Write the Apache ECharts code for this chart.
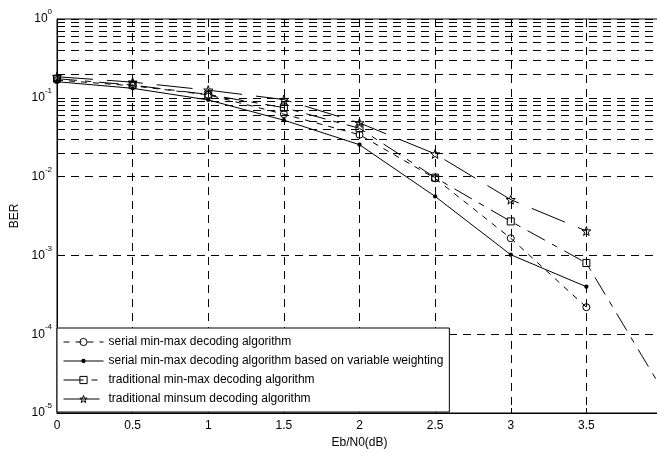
<!DOCTYPE html>
<html>
<head>
<meta charset="utf-8">
<title>BER</title>
<script src="https://cdn.jsdelivr.net/npm/echarts@6/dist/echarts.min.js"></script>
<style>
  html, body { margin: 0; padding: 0; background: #fff; }
  #chart { width: 657px; height: 452px; }
</style>
</head>
<body>
<div id="chart"></div>
<script>
// Eb/N0 points (dB)
var snr = [0, 0.5, 1, 1.5, 2, 2.5, 3, 3.5, 4]

// BER values
var serialMinMax = [0.168, 0.142, 0.109, 0.062, 0.034, 0.0095, 0.00165, 0.00022]
var serialWeighted = [0.160, 0.132, 0.094, 0.052, 0.0254, 0.0056, 0.00102, 0.0004]
var tradMinMax = [0.175, 0.145, 0.110, 0.075, 0.041, 0.0097, 0.0027, 0.0008, 0.00002]
var tradMinsum = [0.185, 0.158, 0.125, 0.095, 0.048, 0.0194, 0.0051, 0.00204]

var names = [
  'serial min-max decoding algorithm',
  'serial min-max decoding algorithm based on variable weighting',
  'traditional min-max decoding algorithm',
  'traditional minsum decoding algorithm'
]

// minor log grid (2..9 in every decade)
var decades = [-5, -4, -3, -2, -1]
var minorSteps = [2, 3, 4, 5, 6, 7, 8, 9]

var font = 'Arial, "Liberation Sans", sans-serif'
var gridDash = [8, 6]
var starPath = 'path://M0,-10 L2.35,-3.24 L9.51,-3.09 L3.8,1.24 L5.88,8.09 L0,4 L-5.88,8.09 L-3.8,1.24 L-9.51,-3.09 L-2.35,-3.24 Z'
// small dot inside an empty 20x20 box, so the legend dot stays small too
var dotPath = 'path://M-10,-10 M10,10 M-6,0 A6,6 0 1,1 6,0 A6,6 0 1,1 -6,0 Z'

function pairs(vals) {
  var out = []
  for (var i = 0; i < vals.length; i++) out.push([snr[i], vals[i]])
  return out
}

var minorLines = []
decades.forEach(function (d) {
  minorSteps.forEach(function (m) {
    minorLines.push({ yAxis: m * Math.pow(10, d) })
  })
})

function openMarker() {
  return { color: 'transparent', borderColor: '#000', borderWidth: 1 }
}

var chart = echarts.init(document.getElementById('chart'))

var option = {
  animation: false,
  backgroundColor: '#fff',
  textStyle: { fontFamily: font, color: '#000' },
  grid: {
    left: 57,
    top: 19,
    width: 605,
    height: 394,
    outerBoundsMode: 'none',
    show: true,
    borderColor: '#000',
    borderWidth: 1
  },
  legend: {
    data: names,
    orient: 'vertical',
    left: 57,
    top: 328,
    itemWidth: 40,
    itemHeight: 9,
    itemGap: 7,
    padding: [8, 6, 7, 6],
    borderColor: '#000',
    borderWidth: 1,
    backgroundColor: '#fff',
    lineStyle: { width: 1 },
    itemStyle: { borderWidth: 1 },
    textStyle: { fontFamily: font, fontSize: 12, color: '#000' }
  },
  xAxis: {
    type: 'value',
    min: 0,
    max: 4,
    interval: 0.5,
    name: 'Eb/N0(dB)',
    nameLocation: 'middle',
    nameGap: 24,
    nameTextStyle: { fontFamily: font, fontSize: 12, color: '#000' },
    axisLine: { lineStyle: { color: '#000', width: 1 } },
    axisTick: { inside: true, length: 5, lineStyle: { color: '#000' } },
    axisLabel: {
      color: '#000',
      fontSize: 12,
      fontFamily: font,
      margin: 7,
      showMaxLabel: false
    },
    splitLine: { show: true, lineStyle: { color: '#000', width: 1, type: gridDash } }
  },
  yAxis: {
    type: 'log',
    logBase: 10,
    min: 1e-5,
    max: 1,
    name: 'BER',
    nameLocation: 'middle',
    nameGap: 33,
    nameRotate: 90,
    nameTextStyle: { fontFamily: font, fontSize: 12, color: '#000' },
    axisLine: { show: true, lineStyle: { color: '#000', width: 1 } },
    axisTick: { inside: true, length: 5, lineStyle: { color: '#000' } },
    axisLabel: {
      margin: 5,
      formatter: function (v) {
        var e = Math.round(Math.log10(v))
        return '{b|10}{s|' + e + '}'
      },
      rich: {
        b: { fontSize: 12, fontFamily: font, color: '#000' },
        s: { fontSize: 8, fontFamily: font, color: '#000', padding: [0, 0, 14, 0] }
      }
    },
    splitLine: { show: true, lineStyle: { color: '#000', width: 1, type: gridDash } }
  },
  series: [
    {
      name: 'grid',
      type: 'line',
      data: [],
      silent: true,
      markLine: {
        silent: true,
        symbol: ['none', 'none'],
        label: { show: false },
        lineStyle: { color: '#000', width: 1, type: gridDash },
        data: minorLines
      }
    },
    {
      name: names[0],
      type: 'line',
      data: pairs(serialMinMax),
      symbol: 'circle',
      symbolSize: 7,
      itemStyle: openMarker(),
      lineStyle: { color: '#000', width: 1, type: [6, 6] }
    },
    {
      name: names[1],
      type: 'line',
      data: pairs(serialWeighted),
      symbol: dotPath,
      symbolSize: 7.2,
      itemStyle: { color: '#000', borderWidth: 0 },
      lineStyle: { color: '#000', width: 1, type: 'solid' }
    },
    {
      name: names[2],
      type: 'line',
      data: pairs(tradMinMax),
      symbol: 'rect',
      symbolSize: 7,
      itemStyle: openMarker(),
      lineStyle: { color: '#000', width: 1, type: [20, 8, 6, 8] }
    },
    {
      name: names[3],
      type: 'line',
      data: pairs(tradMinsum),
      symbol: starPath,
      symbolSize: 9,
      itemStyle: openMarker(),
      lineStyle: { color: '#000', width: 1, type: [36, 14] }
    }
  ]
}

chart.setOption(option)
</script>
</body>
</html>
